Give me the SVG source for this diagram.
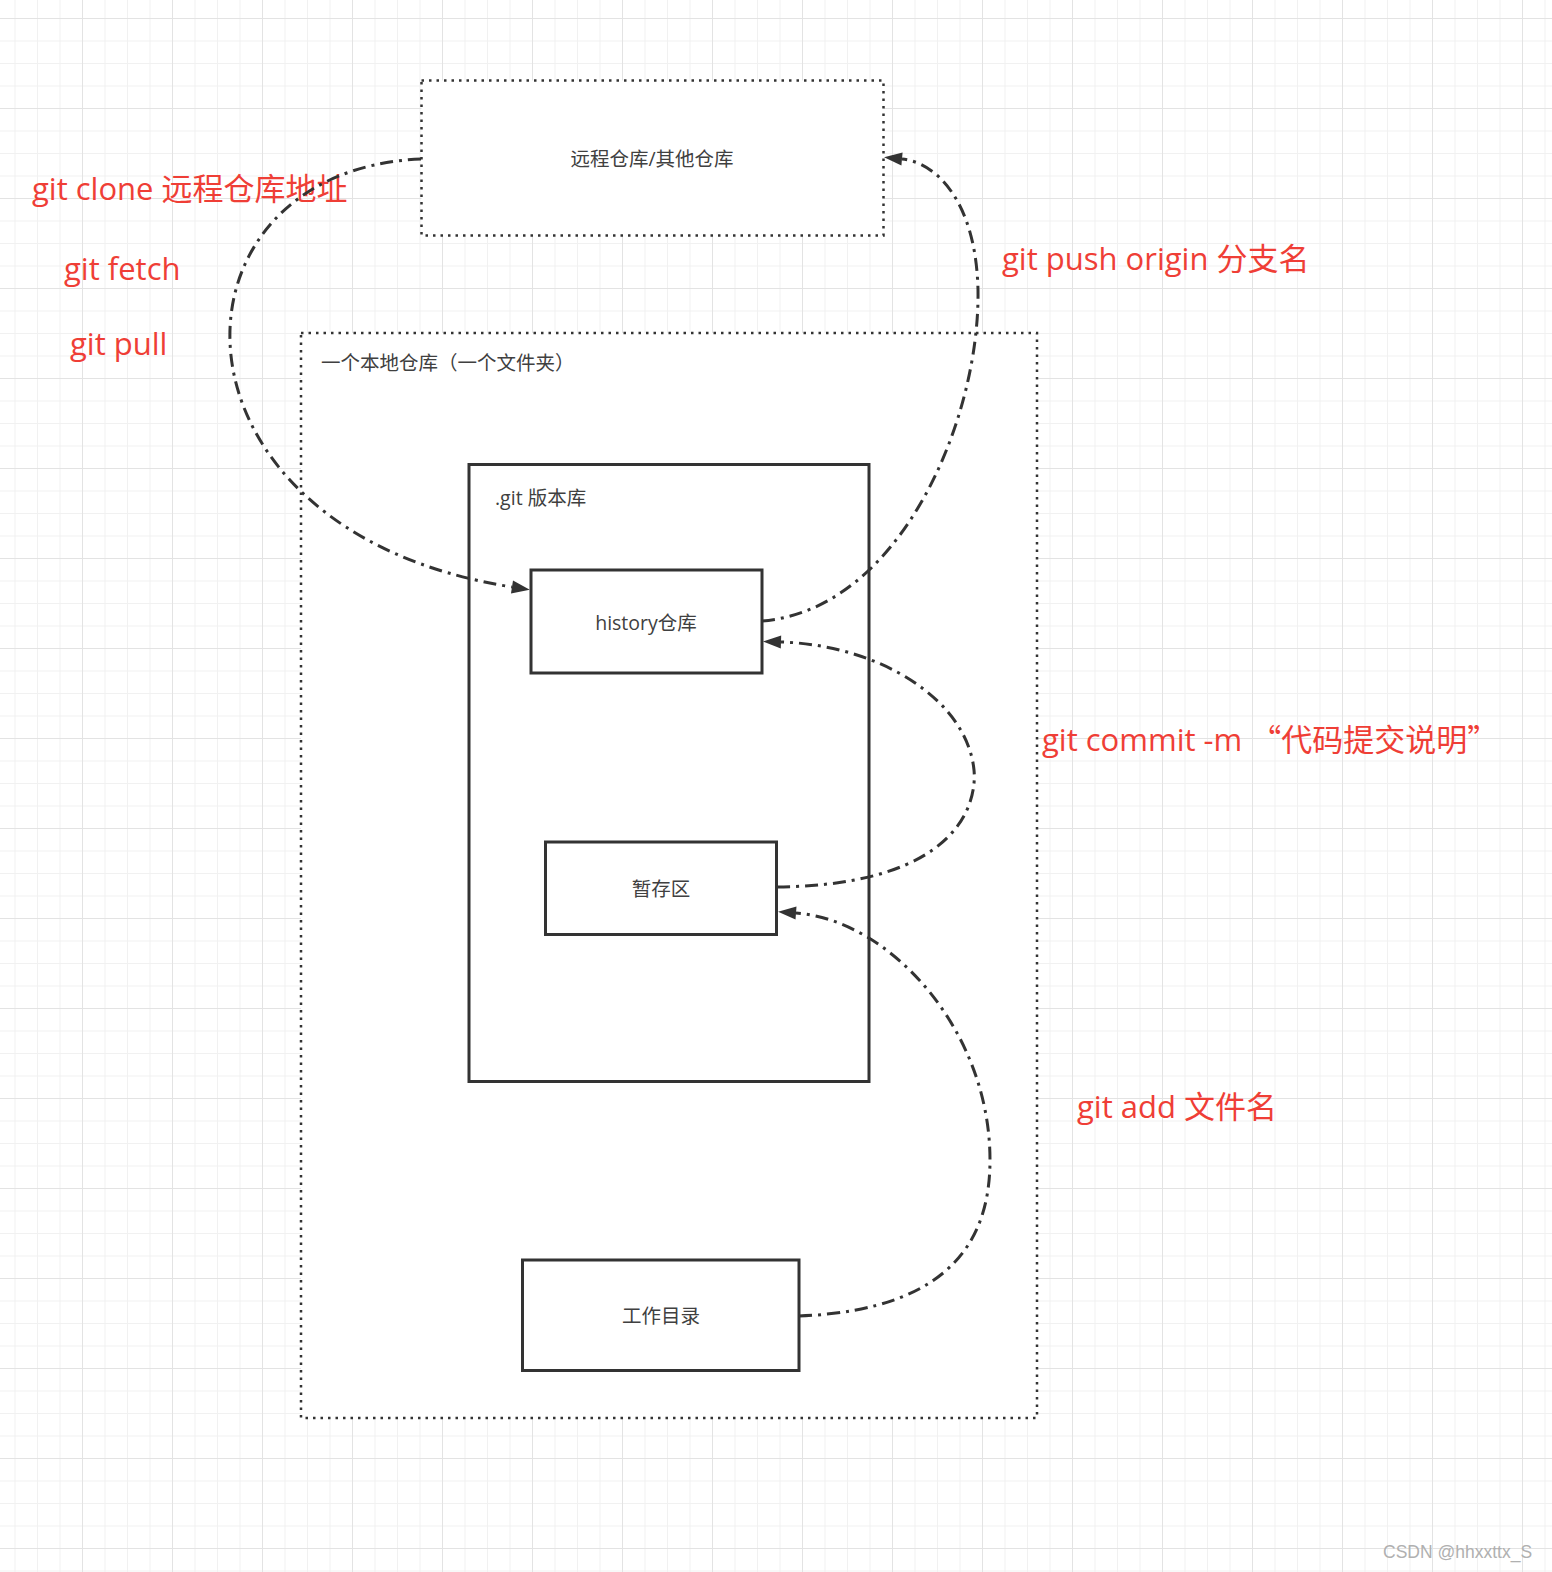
<svg xmlns="http://www.w3.org/2000/svg" width="1552" height="1572" viewBox="0 0 1552 1572">
<defs>
<pattern id="grid" patternUnits="userSpaceOnUse" x="-8" y="18" width="90" height="90">
<rect x="0" y="0" width="90" height="90" fill="#ffffff"/>
<rect x="22.5" y="0" width="1" height="90" fill="#f1f1f1"/>
<rect x="45" y="0" width="1" height="90" fill="#f1f1f1"/>
<rect x="67.5" y="0" width="1" height="90" fill="#f1f1f1"/>
<rect x="0" y="22.5" width="90" height="1" fill="#f1f1f1"/>
<rect x="0" y="45" width="90" height="1" fill="#f1f1f1"/>
<rect x="0" y="67.5" width="90" height="1" fill="#f1f1f1"/>
<rect x="0" y="0" width="1" height="90" fill="#e3e3e3"/>
<rect x="0" y="0" width="90" height="1" fill="#e3e3e3"/>
</pattern>
<marker id="arrow" markerUnits="userSpaceOnUse" markerWidth="20" markerHeight="16" refX="0" refY="7" orient="auto" overflow="visible">
<path d="M0,0.5 L18,7 L0,13.5 Z" fill="#333333"/>
</marker>
</defs>
<style>
.dotted{fill:#ffffff;stroke:#333333;stroke-width:2.5;stroke-dasharray:2.5 5}
.solid{fill:#ffffff;stroke:#333333;stroke-width:3}
.lbl{font-family:"Open Sans","Noto Sans CJK SC",sans-serif;font-size:19.5px;fill:#404040}
.red{font-family:"Open Sans","Noto Sans CJK SC",sans-serif;font-size:31px;fill:#ef3e36}
.cjk{font-family:"Noto Sans CJK SC",sans-serif}
.edge{fill:none;stroke:#333333;stroke-width:3;stroke-dasharray:13 6 3 6;marker-end:url(#arrow)}
</style>
<rect x="0" y="0" width="1552" height="1572" fill="url(#grid)"/>

<g id="remote">
<rect class="dotted" x="421.5" y="80.5" width="462" height="155"/>
<text class="lbl" x="652" y="166" text-anchor="middle">远程仓库/其他仓库</text>
</g>
<g id="local">
<rect class="dotted" x="301" y="333" width="736" height="1085"/>
<text class="lbl" x="321" y="370">一个本地仓库（一个文件夹）</text>
</g>
<g id="gitrepo">
<rect class="solid" x="469" y="464.5" width="400" height="617"/>
<text class="lbl" x="495" y="505">.git 版本库</text>
</g>
<g id="history">
<rect class="solid" x="531" y="570" width="231" height="103"/>
<text class="lbl" x="646" y="630" text-anchor="middle">history仓库</text>
</g>
<g id="stage">
<rect class="solid" x="545.5" y="842" width="231" height="92.5"/>
<text class="lbl" x="661" y="896" text-anchor="middle">暂存区</text>
</g>
<g id="workdir">
<rect class="solid" x="522.5" y="1260" width="276.5" height="110.5"/>
<text class="lbl" x="661" y="1323" text-anchor="middle">工作目录</text>
</g>

<g id="label-clone"><text class="red" x="32" y="200">git clone 远程仓库地址</text></g>
<g id="label-fetch"><text class="red" x="64" y="280">git fetch</text></g>
<g id="label-pull"><text class="red" x="70" y="355">git pull</text></g>
<g id="label-push"><text class="red" x="1002" y="270">git push origin 分支名</text></g>
<g id="label-commit"><text class="red" x="1042" y="751">git commit -m <tspan class="cjk">“代码提交说明”</tspan></text></g>
<g id="label-add"><text class="red" x="1077" y="1118">git add 文件名</text></g>

<g id="connectors">
<path class="edge" d="M 421 159 C 155 170, 150 530, 512 587"/>
<path class="edge" d="M 762 621 C 900 610, 980 420, 978 290 C 976 200, 935 162, 902 159"/>
<path class="edge" d="M 777 887 C 962 885, 977 800, 974 770 C 967 700, 880 645, 781 642"/>
<path class="edge" d="M 799 1316 C 960 1310, 990 1230, 990 1160 C 990 1030, 890 920, 796 913"/>
</g>

<text x="1383" y="1558" font-family="Liberation Sans, Arial, sans-serif" font-size="17.5" fill="#b0b0b0">CSDN @hhxxttx_S</text>
</svg>
